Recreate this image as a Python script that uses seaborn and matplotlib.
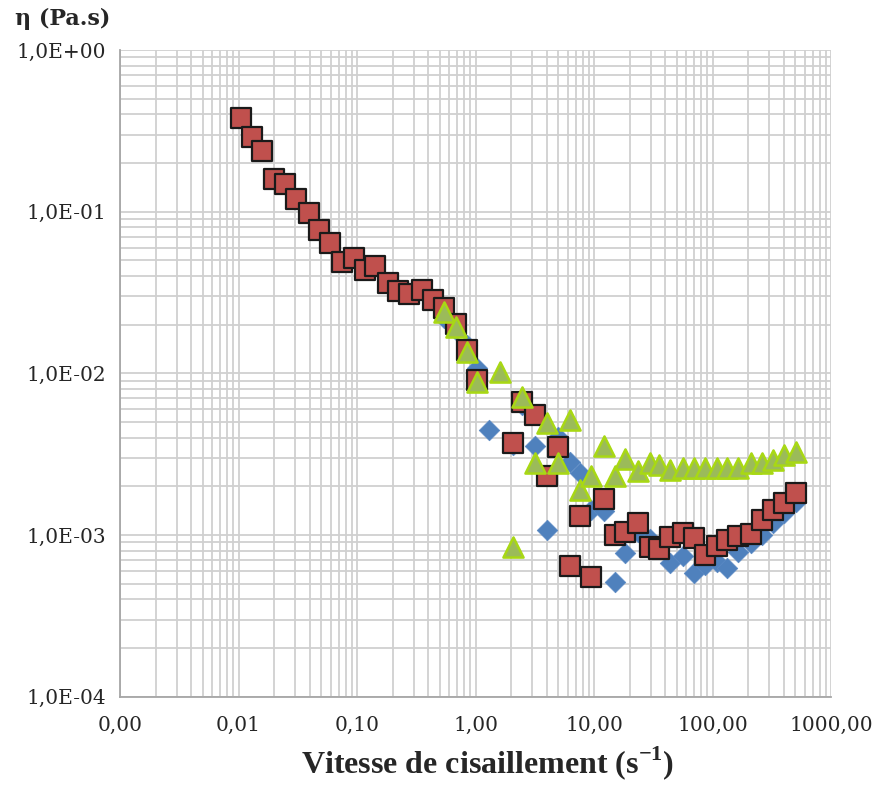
import numpy as np
import pandas as pd
import matplotlib
matplotlib.use("Agg")
import matplotlib.pyplot as plt
import matplotlib.ticker as mticker
import seaborn as sns

# ====================================
# DATA
# ====================================

# series 1 - blue diamonds
blue_x = [0.544, 0.687, 0.846, 1.034, 1.31, 2.07, 2.465, 3.19, 4.01, 4.93,
          6.22, 7.66, 9.49, 12.05, 14.99, 18.38, 23.44, 29.49, 35.6, 44.1,
          56.45, 69.4, 87.1, 109.4, 132.8, 164.4, 213, 262.4, 322, 405, 508]
blue_y = [0.0220, 0.01855, 0.0150, 0.0108, 0.00447, 0.0036, 0.0064, 0.00356, 0.001075, 0.00404,
          0.00283, 0.00242, 0.00143, 0.00141, 0.000513, 0.000775, 0.00105, 0.00095, 0.00085, 0.000672,
          0.000742, 0.000583, 0.000653, 0.000682, 0.000626, 0.000786, 0.000893, 0.00100, 0.00119, 0.00137, 0.0016]

# series 2 - red squares
red_x = [0.01044, 0.01294, 0.01589, 0.02005, 0.0247, 0.0306, 0.0392, 0.0481, 0.0596, 0.0753,
         0.0945, 0.1164, 0.1422, 0.1841, 0.2238, 0.277, 0.3526, 0.4368, 0.544, 0.687,
         0.846, 1.034, 2.07, 2.465, 3.19, 4.01, 4.93, 6.22, 7.66, 9.49,
         12.05, 14.99, 18.38, 23.44, 29.49, 35.6, 44.1, 56.45, 69.4, 87.1,
         109.4, 132.8, 164.4, 213, 262.4, 322, 405, 508]
red_y = [0.380, 0.288, 0.236, 0.1587, 0.1477, 0.1198, 0.0986, 0.0771, 0.0638, 0.0491,
         0.0515, 0.0436, 0.0464, 0.0361, 0.0323, 0.0310, 0.0328, 0.0284, 0.0253, 0.0202,
         0.01395, 0.0091, 0.00371, 0.00666, 0.00553, 0.00232, 0.00351, 0.000644, 0.00131, 0.000551,
         0.001665, 0.001001, 0.001045, 0.001188, 0.000844, 0.00082, 0.000973, 0.00103, 0.00096, 0.000753,
         0.000857, 0.000933, 0.000987, 0.001016, 0.00124, 0.00143, 0.00158, 0.00182]

# series 3 - green triangles
green_x = [0.544, 0.687, 0.846, 1.034, 1.617, 2.07, 2.465, 3.19, 4.01, 4.93,
           6.22, 7.66, 9.49, 12.05, 14.99, 18.38, 23.44, 29.49, 35.6, 44.1,
           56.45, 69.4, 87.1, 109.4, 132.8, 164.4, 213, 262.4, 322, 405, 508]
green_y = [0.0240, 0.01936, 0.01356, 0.00885, 0.0102, 0.000844, 0.00715, 0.00279, 0.00493, 0.00279,
           0.00515, 0.0019, 0.00232, 0.00356, 0.00232, 0.00296, 0.00249, 0.00279, 0.00271, 0.00253,
           0.00259, 0.00259, 0.00259, 0.00259, 0.00259, 0.00259, 0.00279, 0.00279, 0.00291, 0.00313, 0.00327]

x_ticks = [0.001, 0.01, 0.1, 1, 10, 100, 1000]
x_labels = ["0,00", "0,01", "0,10", "1,00", "10,00", "100,00", "1000,00"]
y_ticks = [1e-4, 1e-3, 1e-2, 1e-1, 1]
y_labels = ["1,0E-04", "1,0E-03", "1,0E-02", "1,0E-01", "1,0E+00"]

# ====================================
# PLOT
# ====================================

sns.set_style("white")
plt.rcParams["font.family"] = ["DejaVu Serif", "DejaVu Sans"]
plt.rcParams["mathtext.fontset"] = "custom"
plt.rcParams["mathtext.rm"] = "Liberation Serif:bold"
plt.rcParams["mathtext.bf"] = "Liberation Serif:bold"

fig = plt.figure(figsize=(8.74, 7.87), dpi=100)
ax = fig.add_axes([120 / 874, 1 - 696.7 / 787, 711 / 874, 646.7 / 787])

grid_col = "#d0d0d0"
ax.set_xscale("log")
ax.set_yscale("log")
ax.set_xlim(0.001, 1000)
ax.set_ylim(1e-4, 1)

sns.scatterplot(x=blue_x, y=blue_y, ax=ax, marker="D", s=110,
                color="#4f81bd", edgecolor="#5b8ac4", linewidth=0.5, zorder=3)
sns.scatterplot(x=red_x, y=red_y, ax=ax, marker="s", s=200,
                color="#c0504d", edgecolor="#1a1a1a", linewidth=1.6, zorder=4)
sns.scatterplot(x=green_x, y=green_y, ax=ax, marker="^", s=210,
                color="#9bbb59", edgecolor="#a8d814", linewidth=1.8, zorder=5)

ax.xaxis.set_major_locator(mticker.FixedLocator(x_ticks))
ax.xaxis.set_major_formatter(mticker.FixedFormatter(x_labels))
ax.yaxis.set_major_locator(mticker.FixedLocator(y_ticks))
ax.yaxis.set_major_formatter(mticker.FixedFormatter(y_labels))
ax.xaxis.set_minor_locator(mticker.LogLocator(base=10, subs=np.arange(2, 10)))
ax.yaxis.set_minor_locator(mticker.LogLocator(base=10, subs=np.arange(2, 10)))
ax.xaxis.set_minor_formatter(mticker.NullFormatter())
ax.yaxis.set_minor_formatter(mticker.NullFormatter())

ax.grid(True, which="both", color=grid_col, linewidth=1.3, zorder=0)
ax.set_axisbelow(True)

for side in ["top", "right"]:
    ax.spines[side].set_visible(False)
for side in ["left", "bottom"]:
    ax.spines[side].set_color("#a6a6a6")
    ax.spines[side].set_linewidth(1.3)

ax.tick_params(which="major", direction="out", length=6, width=1.3,
               color="#a6a6a6", labelsize=14.5, labelcolor="#262626", pad=4)
ax.tick_params(which="minor", length=0)
ax.tick_params(axis="x", pad=8)

fig.text(0.017, 0.976, "η (Pa.s)", fontsize=16, fontweight="bold",
         color="#262626", ha="left", va="center")
fig.text(0.558, 0.03, r"Vitesse de cisaillement (s$^{\mathbf{-1}}$)",
         fontsize=23, fontweight="bold", family="Liberation Serif",
         color="#262626", ha="center", va="center")

plt.savefig("out.png", dpi=100)
